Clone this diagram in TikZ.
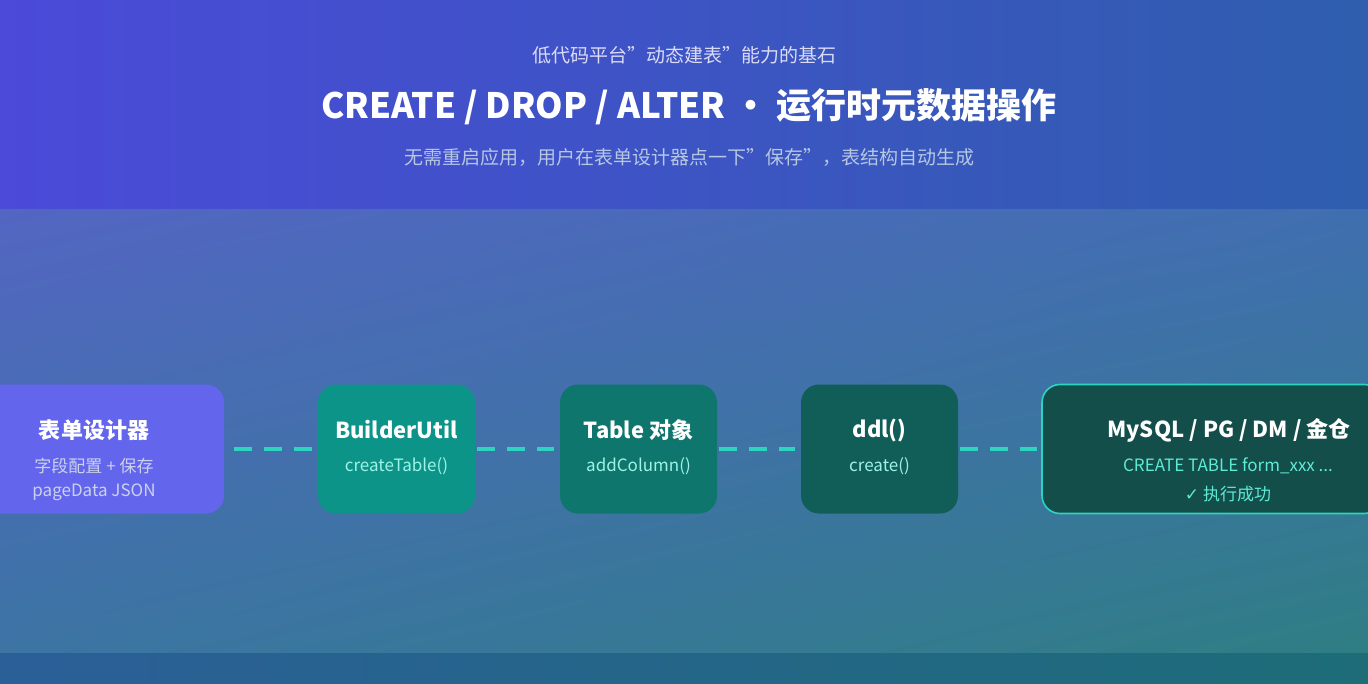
\documentclass[tikz,border=0pt]{standalone}
\usepackage{fontspec}
\usetikzlibrary{shadings}
\setmainfont{Noto Sans CJK SC}
\newfontfamily\symf{DejaVu Sans}
\definecolor{hdA}{HTML}{4B4AD9}
\definecolor{hdB}{HTML}{2F5EAE}
\definecolor{bdA}{HTML}{5366C2}
\definecolor{bdB}{HTML}{406FB0}
\definecolor{bdC}{HTML}{3C74A4}
\definecolor{bdD}{HTML}{2F7E84}
\definecolor{ftA}{HTML}{2B5F98}
\definecolor{ftB}{HTML}{1D6C78}
\definecolor{dash}{HTML}{2DD4BF}
\definecolor{subt}{HTML}{5EEAD4}
\tikzset{
  box/.style={rounded corners=9pt, minimum height=64.5pt, inner sep=0pt, align=center},
  conn/.style={draw=dash, line width=1.6pt, dash pattern=on 9pt off 6pt},
  ttl/.style={font=\fontsize{11}{13}\selectfont\bfseries, text=white},
  sub/.style={font=\fontsize{8.5}{12}\selectfont}
}
\begin{document}
\begin{tikzpicture}[x=0.5pt,y=-0.5pt]
\useasboundingbox (0,0) rectangle (1368,684);
\clip (0,0) rectangle (1368,684);
\shade[left color=hdA, right color=hdB] (0,0) rectangle (1368,209);
\shade[upper left=bdA, upper right=bdB, lower left=bdC, lower right=bdD] (0,209) rectangle (1368,653);
\shade[left color=ftA, right color=ftB] (0,653) rectangle (1368,684);
\node[font=\fontsize{9.5}{11}\selectfont, text=white!80!hdA] (kick) at (684,55) {低代码平台"动态建表"能力的基石};
\node[font=\fontsize{17.5}{20}\selectfont\bfseries, text=white] (title) at (689,107) {CREATE / DROP / ALTER · 运行时元数据操作};
\node[font=\fontsize{9.5}{11}\selectfont, text=white!65!hdB] (desc) at (689,157) {无需重启应用，用户在表单设计器点一下"保存"，表结构自动生成};
\node[box, fill={rgb,255:red,99;green,102;blue,236}, minimum width=132pt] (b1) at (92,449) {};
\node[ttl] (t1) at (94,430) {表单设计器};
\node[sub, align=center, text=white!70!bdA] (s1) at (94,479) {字段配置 + 保存\\pageData JSON};
\node[box, fill={rgb,255:red,13;green,148;blue,136}, minimum width=78.5pt] (b2) at (396.5,449) {};
\node[ttl] (t2) at (396.5,430) {BuilderUtil};
\node[sub, text=subt!60!white] (s2) at (396.5,466) {createTable()};
\node[box, fill={rgb,255:red,15;green,118;blue,110}, minimum width=78.5pt] (b3) at (638.5,449) {};
\node[ttl] (t3) at (638.5,430) {Table 对象};
\node[sub, text=subt!60!white] (s3) at (638.5,466) {addColumn()};
\node[box, fill={rgb,255:red,17;green,94;blue,89}, minimum width=78.5pt] (b4) at (879.5,449) {};
\node[ttl] (t4) at (879.5,430) {ddl()};
\node[sub, text=subt!60!white] (s4) at (879.5,466) {create()};
\node[box, fill={rgb,255:red,19;green,78;blue,74}, draw=dash, line width=0.8pt, minimum width=170pt] (b5) at (1212,449) {};
\node[ttl] (t5) at (1229,430) {MySQL / PG / DM / 金仓};
\node[sub, text=subt] (s5) at (1228,466) {CREATE TABLE form\_xxx ...};
\node[sub, text=subt] (s6) at (1228,494) {{\symf ✓} 执行成功};
\draw[conn] ([xshift=5pt]b1.east) -- ([xshift=-3pt]b2.west);
\draw[conn] ([xshift=1pt]b2.east) -- ([xshift=-3pt]b3.west);
\draw[conn] ([xshift=1pt]b3.east) -- ([xshift=-3pt]b4.west);
\draw[conn] ([xshift=1pt]b4.east) -- ([xshift=-2pt]b5.west);
\end{tikzpicture}
\end{document}
